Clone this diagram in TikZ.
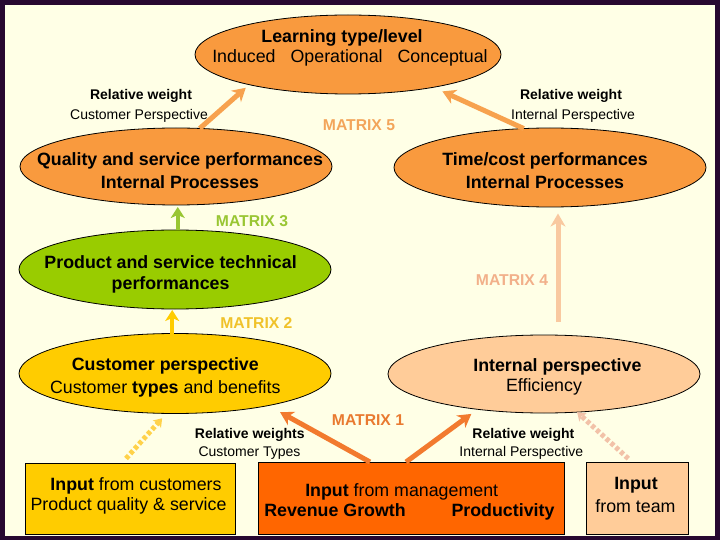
\documentclass[tikz,border=0pt]{standalone}
\usepackage{fontspec}
\setmainfont{Liberation Sans}
\usetikzlibrary{arrows.meta,shapes.geometric}
\definecolor{framec}{RGB}{40,8,48}
\definecolor{creamc}{HTML}{FFFFE6}
\definecolor{orangeE}{HTML}{F99A3E}
\definecolor{greenE}{HTML}{99CC00}
\definecolor{yellowE}{HTML}{FFCC00}
\definecolor{peachE}{HTML}{FFCC99}
\definecolor{mgmtc}{HTML}{FF6600}
\definecolor{mfivec}{HTML}{F7A24E}
\definecolor{mfivet}{HTML}{F3A55A}
\definecolor{mthreec}{HTML}{99C633}
\definecolor{mtwoc}{HTML}{FFCC00}
\definecolor{mtwot}{HTML}{F0C22A}
\definecolor{mfourc}{HTML}{F9C9A0}
\definecolor{mfourt}{HTML}{F2B08A}
\definecolor{monec}{HTML}{F27A2E}
\definecolor{monet}{HTML}{E97A30}
\definecolor{dotyel}{HTML}{FFD24A}
\definecolor{dotpea}{HTML}{F2C2A8}
\begin{document}
\begin{tikzpicture}[x=1pt,y=-1pt,
  ell/.style={ellipse, draw=black, line width=0.8pt, inner sep=0pt, outer sep=0pt, minimum width=312pt},
  box/.style={rectangle, draw=black, line width=0.8pt, inner sep=0pt, outer sep=0pt, anchor=north west},
  big/.style={inner sep=0pt, anchor=base, font=\fontsize{17.8}{20}\selectfont},
  small/.style={inner sep=0pt, anchor=base, font=\fontsize{14}{16}\selectfont},
  mat/.style={inner sep=0pt, anchor=base, font=\fontsize{15.7}{18}\selectfont\bfseries},
  bigarr/.style={line width=5pt, -{Stealth[length=13pt,width=15pt,inset=4pt]}},
  midarr/.style={line width=4.5pt, -{Stealth[length=11pt,width=14pt,inset=3pt]}},
  dotarr/.style={line width=5pt, dash pattern=on 4pt off 2.5pt, -{Stealth[length=8pt,width=11pt,inset=2pt]}}
]
\fill[framec] (0,0) rectangle (720,540);
\fill[creamc] (5,5) rectangle (715,536);
\useasboundingbox (0,0) rectangle (720,540);

% ellipses
\node[ell, fill=orangeE, minimum width=306pt, minimum height=79pt] (learn) at (348,54.5) {};
\node[ell, fill=orangeE, minimum height=77pt] (qual) at (176,166.5) {};
\node[ell, fill=orangeE, minimum height=79pt] (time) at (550,167.5) {};
\node[ell, fill=greenE, minimum height=79pt] (prod) at (175,269.5) {};
\node[ell, fill=yellowE, minimum height=80pt] (cust) at (175,373.5) {};
\node[ell, fill=peachE, minimum height=78pt] (intl) at (544,374) {};

% boxes
\node[box, fill=yellowE, minimum width=210pt, minimum height=71pt] (incust) at (25,463) {};
\node[box, fill=mgmtc, minimum width=306pt, minimum height=72pt] (mgmt) at (258,462) {};
\node[box, fill=peachE, minimum width=102pt, minimum height=72pt] (team) at (586,462) {};

% texts
\node[big, font=\fontsize{17.8}{20}\selectfont\bfseries] (learnA) at (342,42.7) {Learning type/level};
\node[big] (learnB) at (350,62.7) {Induced\hspace{15pt}Operational\hspace{15pt}Conceptual};
\node[small, font=\fontsize{14}{16}\selectfont\bfseries] (rwA) at (141,100) {Relative weight};
\node[small] (rwB) at (139,119.3) {Customer Perspective};
\node[small, font=\fontsize{14}{16}\selectfont\bfseries] (rwC) at (571,100) {Relative weight};
\node[small] (rwD) at (573,119.3) {Internal Perspective};
\node[mat, text=mfivet] (m5) at (359,130.7) {MATRIX 5};
\node[big, font=\fontsize{17.8}{20}\selectfont\bfseries] (qualA) at (180,166) {Quality and service performances};
\node[big, font=\fontsize{17.8}{20}\selectfont\bfseries] (qualB) at (180,188.3) {Internal Processes};
\node[big, font=\fontsize{17.8}{20}\selectfont\bfseries] (timeA) at (545,166) {Time/cost performances};
\node[big, font=\fontsize{17.8}{20}\selectfont\bfseries] (timeB) at (545,188.3) {Internal Processes};
\node[mat, text=mthreec] (m3) at (252,226.7) {MATRIX 3};
\node[big, font=\fontsize{17.8}{20}\selectfont\bfseries] (prodA) at (170.6,268.3) {Product and service technical};
\node[big, font=\fontsize{17.8}{20}\selectfont\bfseries] (prodB) at (170.6,289.3) {performances};
\node[mat, text=mfourt] (m4) at (512,285) {MATRIX 4};
\node[mat, text=mtwot] (m2) at (256.4,328.3) {MATRIX 2};
\node[big, font=\fontsize{17.8}{20}\selectfont\bfseries] (custA) at (165.3,370.7) {Customer perspective};
\node[big] (custB) at (165.3,393.3) {Customer \textbf{types} and benefits};
\node[big, font=\fontsize{17.8}{20}\selectfont\bfseries] (intlA) at (557.4,371) {Internal perspective};
\node[big] (intlB) at (544,391.7) {Efficiency};
\node[mat, text=monet] (m1) at (368,425) {MATRIX 1};
\node[small, font=\fontsize{14}{16}\selectfont\bfseries] (rwE) at (249.8,438.3) {Relative weights};
\node[small] (rwF) at (249.5,456.7) {Customer Types};
\node[small, font=\fontsize{14}{16}\selectfont\bfseries] (rwG) at (523.4,438.3) {Relative weight};
\node[small] (rwH) at (521.3,456.7) {Internal Perspective};
\node[big] (incA) at (136,490) {\textbf{Input} from customers};
\node[big] (incB) at (128.5,510) {Product quality \& service};
\node[big] (mgA) at (401.7,496) {\textbf{Input} from management};
\node[big, font=\fontsize{17.8}{20}\selectfont\bfseries] (mgB) at (335,516) {Revenue Growth};
\node[big, font=\fontsize{17.8}{20}\selectfont\bfseries] (mgC) at (503,516) {Productivity};
\node[big, font=\fontsize{17.8}{20}\selectfont\bfseries] (tmA) at (636,489.3) {Input};
\node[big] (tmB) at (635.5,512.7) {from team};

% connectors
\draw[bigarr, mfivec, shorten >=4.7pt] (qual.58.4) -- (learn.197.4);
\draw[bigarr, mfivec, shorten >=9.9pt] (time.124.7) -- (learn.339.85);
\draw[midarr, mthreec, shorten >=2pt] (prod.86) -- (prod.86 |- qual.south);
\draw[midarr, mtwoc, shorten >=1pt] (cust.94) -- (cust.94 |- prod.south);
\coordinate (m4base) at ([xshift=14pt]intl.north);
\draw[bigarr, mfourc, shorten <=13pt, shorten >=6.5pt] (m4base) -- (m4base |- time.south);
\coordinate (m1l) at ([xshift=-41pt]mgmt.north);
\coordinate (m1r) at ([xshift=-5pt]mgmt.north);
\draw[bigarr, monec, shorten >=13.6pt] (m1l) -- (cust.341.3);
\draw[bigarr, monec, shorten >=7.8pt] (m1r) -- (intl.208.7);
\coordinate (dyb) at ([xshift=-8pt]incust.north);
\coordinate (dpb) at ([xshift=-5pt]team.north);
\draw[dotarr, dotyel, shorten <=6pt, shorten >=6.5pt] (dyb) -- (cust.258.2);
\draw[dotarr, dotpea, shorten <=5pt] (dpb) -- (intl.311.8);
\end{tikzpicture}
\end{document}
